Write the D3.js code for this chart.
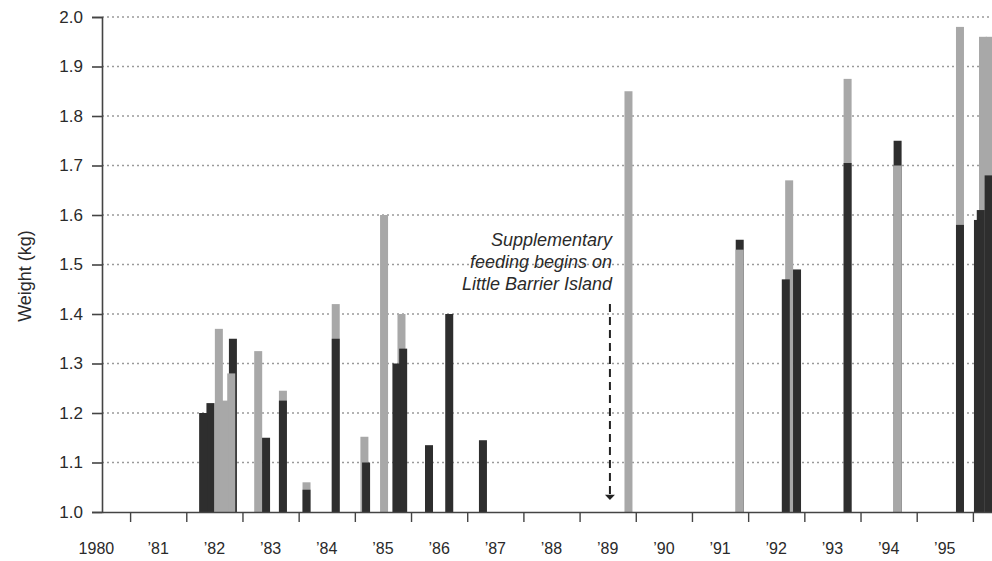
<!DOCTYPE html>
<html>
<head>
<meta charset="utf-8">
<script src="https://cdn.jsdelivr.net/npm/d3@7"></script>
<style>
  html, body { margin: 0; padding: 0; background: #fff; }
  svg { display: block; font-family: "Liberation Sans", Arial, sans-serif; }
</style>
</head>
<body>
<svg id="chart" width="992" height="561"></svg>
<script>
// dark bars: measurement date (decimal year) and weight in kg
const darkDates = [1982.30, 1982.43, 1982.83, 1983.42, 1983.72, 1984.14, 1984.66,
  1985.20, 1985.74, 1985.86, 1986.32, 1986.68, 1987.28,
  1991.85, 1992.67, 1992.87, 1993.77, 1994.66, 1995.77, 1996.09, 1996.14, 1996.28];
const darkValues = [1.20, 1.22, 1.35, 1.15, 1.225, 1.045, 1.35,
  1.10, 1.30, 1.33, 1.135, 1.40, 1.145,
  1.55, 1.47, 1.49, 1.705, 1.75, 1.58, 1.59, 1.61, 1.68];

// light bars
const lightDates = [1982.58, 1982.68, 1982.80, 1983.28, 1983.72, 1984.14, 1984.66,
  1985.17, 1985.52, 1985.83, 1989.87,
  1991.85, 1992.73, 1993.77, 1994.66, 1995.77, 1996.18, 1996.30];
const lightValues = [1.37, 1.225, 1.28, 1.325, 1.245, 1.06, 1.42,
  1.152, 1.60, 1.40, 1.85,
  1.53, 1.67, 1.875, 1.70, 1.98, 1.96, 1.96];

const yTicks = [1.0, 1.1, 1.2, 1.3, 1.4, 1.5, 1.6, 1.7, 1.8, 1.9, 2.0];
const yearTicks = d3.range(1981, 1997);
const yearLabels = ["1980", "’81", "’82", "’83", "’84", "’85", "’86", "’87",
  "’88", "’89", "’90", "’91", "’92", "’93", "’94", "’95"];

// annotation: arrow at this date, from 1.42 kg down to the axis
const noteDate = 1989.54;
const noteLines = ["Supplementary", "feeding begins on", "Little Barrier Island"];

const svg = d3.select("#chart");
const mLeft = 102, mTop = 17, mBottom = 512, mRight = 992;

const x = d3.scaleLinear().domain([1980.5, 1996.34]).range([mLeft, mRight]);
const y = d3.scaleLinear().domain([1.0, 2.0]).range([mBottom, mTop]);

// gridlines
svg.append("g")
  .selectAll("line")
  .data(yTicks.slice(1))
  .join("line")
  .attr("x1", mLeft).attr("x2", mRight)
  .attr("y1", d => y(d)).attr("y2", d => y(d))
  .attr("stroke", "#9a9a9a")
  .attr("stroke-width", 1.5)
  .attr("stroke-dasharray", "2,3");

// bars, taller ones behind shorter ones
const bars = darkDates.map((d, i) => ({ date: d, value: darkValues[i], kind: "dark" }))
  .concat(lightDates.map((d, i) => ({ date: d, value: lightValues[i], kind: "light" })))
  .sort((a, b) => b.value - a.value);

const barW = 8;
svg.append("g")
  .selectAll("rect")
  .data(bars)
  .join("rect")
  .attr("x", d => x(d.date) - barW / 2)
  .attr("width", barW)
  .attr("y", d => y(d.value))
  .attr("height", d => y(1.0) - y(d.value))
  .attr("fill", d => d.kind === "dark" ? "#2e2e2e" : "#a8a8a8");

// y axis
const yAxis = svg.append("g")
  .attr("transform", `translate(${mLeft},0)`)
  .call(d3.axisLeft(y).tickValues(yTicks).tickFormat(d3.format(".1f")).tickSize(10).tickPadding(9));
yAxis.select(".domain").attr("stroke", "#444").attr("stroke-width", 1.6);
yAxis.selectAll(".tick line").attr("stroke", "#444").attr("stroke-width", 1.6);
yAxis.selectAll(".tick text")
  .attr("font-size", 17).attr("fill", "#2a2a2a").attr("font-family", "Liberation Sans, Arial, sans-serif");

// x axis: ticks at year boundaries, labels in the middle of each year
const xAxis = svg.append("g")
  .attr("transform", `translate(0,${mBottom})`)
  .call(d3.axisBottom(x).tickValues(yearTicks).tickFormat("").tickSize(10).tickSizeOuter(0));
xAxis.select(".domain").attr("stroke", "#444").attr("stroke-width", 1.6);
xAxis.selectAll(".tick line").attr("stroke", "#444").attr("stroke-width", 1.4);

svg.append("g")
  .selectAll("text")
  .data(yearLabels)
  .join("text")
  .attr("x", (d, i) => x(1980.4 + i + (i === 0 ? 0 : 0.1)))
  .attr("y", 554)
  .attr("text-anchor", "middle")
  .attr("font-size", 16)
  .attr("fill", "#2a2a2a")
  .text(d => d);

// y axis title
svg.append("text")
  .attr("transform", `translate(31,276) rotate(-90)`)
  .attr("text-anchor", "middle")
  .attr("font-size", 18)
  .attr("fill", "#2a2a2a")
  .text("Weight (kg)");

// annotation
svg.append("g")
  .selectAll("text")
  .data(noteLines)
  .join("text")
  .attr("x", 612)
  .attr("y", (d, i) => 246 + i * 22)
  .attr("text-anchor", "end")
  .attr("font-size", 18)
  .attr("font-style", "italic")
  .attr("fill", "#2a2a2a")
  .text(d => d);

svg.append("line")
  .attr("x1", x(noteDate)).attr("x2", x(noteDate))
  .attr("y1", y(1.42)).attr("y2", y(1.035))
  .attr("stroke", "#222")
  .attr("stroke-width", 2)
  .attr("stroke-dasharray", "8,5");

svg.append("path")
  .attr("d", `M${x(noteDate) - 5},${y(1.035)} L${x(noteDate) + 5},${y(1.035)} L${x(noteDate)},${y(1.0) - 12} Z`)
  .attr("fill", "#222");
</script>
</body>
</html>
